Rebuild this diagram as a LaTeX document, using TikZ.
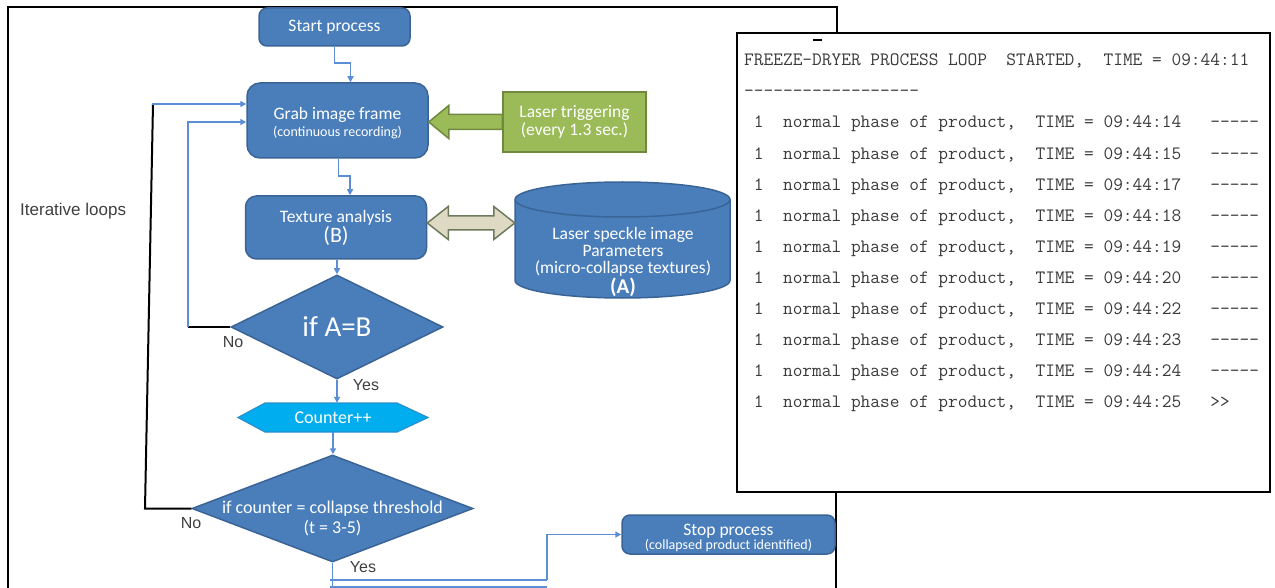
\documentclass[tikz,border=0pt]{standalone}
\usepackage{fontspec}
\setmainfont{Carlito}
\newfontfamily\arialf{Liberation Sans}
\usetikzlibrary{arrows.meta,calc,shapes.geometric}
\definecolor{bfill}{HTML}{4A7EBB}
\definecolor{bline}{HTML}{3A6396}
\definecolor{connc}{HTML}{5B8ED6}
\definecolor{cyanf}{HTML}{00AEEF}
\definecolor{cyanl}{HTML}{2B8FCB}
\definecolor{grn}{HTML}{9BBB59}
\definecolor{grnl}{HTML}{71893F}
\definecolor{beig}{HTML}{DDD9C3}
\definecolor{beigl}{HTML}{6E7A5C}
\definecolor{lbl}{HTML}{404040}
\definecolor{termc}{HTML}{3A3A3A}
\newcommand\hy{-\kern0pt}
\newcommand\fsz[1]{\fontsize{#1}{#1}\selectfont}
\begin{document}
\begin{tikzpicture}[x=1pt,y=-1pt,
  fbox/.style={draw=bline,fill=bfill,line width=1.5pt,text=white,align=center,inner sep=0pt},
  conn/.style={draw=connc,line width=1.6pt,-{Triangle[length=6pt,width=6pt]}},
  connl/.style={draw=connc,line width=1.6pt},
  blk/.style={draw=black,line width=2pt},
  lab/.style={font=\arialf\fontsize{16}{18}\selectfont,text=lbl,inner sep=0pt},
  termtxt/.style={font=\ttfamily\fontsize{18.86}{20}\selectfont,text=termc,anchor=base west,inner sep=0pt},
  wtxt/.style={text=white,align=center,inner sep=0pt}]
\useasboundingbox (0,0) rectangle (1275,588);
\fill[white] (0,0) rectangle (1275,588);

% frame
\draw[blk] (8,588) -- (8,7) -- (837,7) -- (837,33);
\draw[blk] (836,492) -- (836,588);

% flowchart nodes
\node[fbox,rounded corners=8pt,minimum width=151pt,minimum height=38pt,font=\fsz{17.5}] (start) at (334.5,27) {Start process};
\node[fbox,rounded corners=13pt,minimum width=181pt,minimum height=75pt] (grab) at (337.5,120.5) {};
\node[wtxt] (grabt) at (337.5,123) {\fontsize{17.5}{18}\selectfont Grab image frame\\[3pt]\fontsize{14}{18}\selectfont (continuous recording)};
\node[fbox,rounded corners=11pt,minimum width=181pt,minimum height=63pt] (tex) at (336,227.5)
  {\fontsize{17.5}{22}\selectfont Texture analysis\\\fontsize{22}{22}\selectfont (B)};
\node[diamond,draw=bline,fill=bfill,line width=1.5pt,minimum width=212pt,minimum height=104pt,inner sep=0pt] (d1) at (337,327) {};
\node[wtxt,font=\fsz{29}] (d1t) at (d1) {if A=B};
\node[inner sep=0pt,minimum width=190pt,minimum height=29pt] (cnt) at (333,417.5) {};
\draw[draw=cyanl,fill=cyanf,line width=1.2pt] (238,417.5) -- (265,403) -- (397,403) -- (428,417.5) -- (397,432) -- (265,432) -- cycle;
\node[wtxt,font=\fsz{18}] (cntt) at (cnt) {Counter++};
\node[diamond,draw=bline,fill=bfill,line width=1.5pt,minimum width=281pt,minimum height=107pt,inner sep=0pt] (d2) at (332.5,508.5) {};
\node[wtxt,font=\fontsize{18}{20}\selectfont] (d2t) at (332.5,518) {if counter = collapse threshold\\(t = 3-5)};
\node[fbox,rounded corners=8pt,minimum width=213pt,minimum height=39pt] (stop) at (728.5,534.5) {};
\node[wtxt] (stopt) at (728.5,538)
  {\fontsize{17.5}{17}\selectfont Stop process\\\fontsize{14}{17}\selectfont (collapsed product identified)};
\node[draw=grnl,fill=grn,line width=1.5pt,minimum width=143pt,minimum height=60pt,text=white,align=center,inner sep=0pt,font=\fontsize{17.5}{18}\selectfont] (laser) at (574.5,122) {Laser triggering\\(every 1.3 sec.)};

% cylinder
\draw[fill=bfill,draw=bline,line width=1.5pt] (515,199.5) -- (515,280.5)
  arc[start angle=180,end angle=360,x radius=107.5pt,y radius=17.5pt] -- (730,199.5)
  arc[start angle=0,end angle=180,x radius=107.5pt,y radius=17.5pt] -- cycle;
\draw[draw=bline,line width=1.5pt] (515,199.5) arc[start angle=180,end angle=360,x radius=107.5pt,y radius=17.5pt];
\node[inner sep=0pt,minimum width=215pt,minimum height=116pt] (db) at (622.5,240) {};
\node[wtxt,font=\fontsize{17.5}{17}\selectfont] (dbt) at (623,262)
  {Laser speckle image\\Parameters\\(micro-collapse textures)\\{\bfseries\fontsize{21}{18}\selectfont (A)}};

% block arrows
\path (grab.east |- laser.west) coordinate (gt);
\draw[fill=grn,draw=grnl,line width=1.5pt,line join=miter] (gt) -- ($(gt)+(20,-16.5)$) -- ($(gt)+(20,-7.5)$)
  -- ($(laser.west)+(0,-7.5)$) -- ($(laser.west)+(0,7.5)$) -- ($(gt)+(20,7.5)$) -- ($(gt)+(20,16.5)$) -- cycle;
\coordinate (dl) at ([yshift=4.5pt]tex.east);
\coordinate (dr) at (dl -| db.west);
\draw[fill=beig,draw=beigl,line width=1.5pt] (dl) -- ($(dl)+(21,-16.5)$) -- ($(dl)+(21,-7)$) -- ($(dr)+(-21,-7)$)
  -- ($(dr)+(-21,-16.5)$) -- (dr) -- ($(dr)+(-21,16.5)$) -- ($(dr)+(-21,7)$) -- ($(dl)+(21,7)$) -- ($(dl)+(21,16.5)$) -- cycle;

% connectors
\draw[conn] (start.south) -- ++(0,16) -| ([xshift=13pt]grab.north);
\draw[conn] ([xshift=1pt]grab.south) -- ++(0,17) -| ([xshift=14pt]tex.north);
\draw[conn] (tex.south -| d1.north) -- (d1.north);
\draw[conn] (d1.south) -- (d1.south |- cnt.north);
\draw[conn] (cnt.south) -- (cnt.south |- d2.north);
\coordinate (lp1) at (188,327);
\draw[blk] (d1.west) -- (lp1);
\draw[conn] (lp1) |- ([yshift=-1.5pt]grab.west);
\coordinate (lp2b) at (145,508.5);
\coordinate (lp2t) at (153,104);
\draw[blk] (d2.west) -- (lp2b) -- (lp2t);
\draw[conn] ([xshift=-1pt]lp2t) -- (lp2t -| grab.west);
\coordinate (yb) at (332.5,580);
\coordinate (yc) at (547,580);
\coordinate (ybot) at (332.5,588);
\coordinate (yd) at (330,587);
\coordinate (ye) at (547,587);
\draw[connl] (d2.south) -- (ybot);
\draw[connl] ([xshift=-2.5pt]yb) -- (yc);
\draw[connl] (yd) -- (ye);
\draw[conn] (yc) |- (stop.west);

% labels
\node[lab,anchor=west,font=\arialf\fontsize{17}{18}\selectfont] (iter) at (20,211) {Iterative loops};
\node[lab] (no1) at (233,342) {No};
\node[lab] (yes1) at (366,385) {Yes};
\node[lab] (no2) at (191,523) {No};
\node[lab] (yes2) at (363,567) {Yes};

% terminal
\node[inner sep=0pt,minimum width=533pt,minimum height=459pt] (term) at (1003.5,262.5) {};
\begin{scope}
\clip (term.south west) rectangle (term.north east);
\node[termtxt] (t0) at (744,66) {FREEZE-DRYER~PROCESS~LOOP~~STARTED,~~TIME~=~09:44:11};
\node[termtxt] (t1) at (744,97) {\hy\hy\hy\hy\hy\hy\hy\hy\hy\hy\hy\hy\hy\hy\hy\hy\hy\hy};
\foreach \t [count=\i from 0] in {14,15,17,18,19,20,22,23,24}
  \node[termtxt] (r\i) at (744,128+31.1*\i) {~1~~normal~phase~of~product,~~TIME~=~09:44:\t~~~\hy\hy\hy\hy\hy};
\node[termtxt] (r9) at (744,128+31.1*9) {~1~~normal~phase~of~product,~~TIME~=~09:44:25~~~>\kern0pt>};
\end{scope}
\draw[black,line width=2pt] (term.south west) rectangle (term.north east);
\draw[black,line width=1.5pt] (813,40) -- (822,40);
\end{tikzpicture}
\end{document}
